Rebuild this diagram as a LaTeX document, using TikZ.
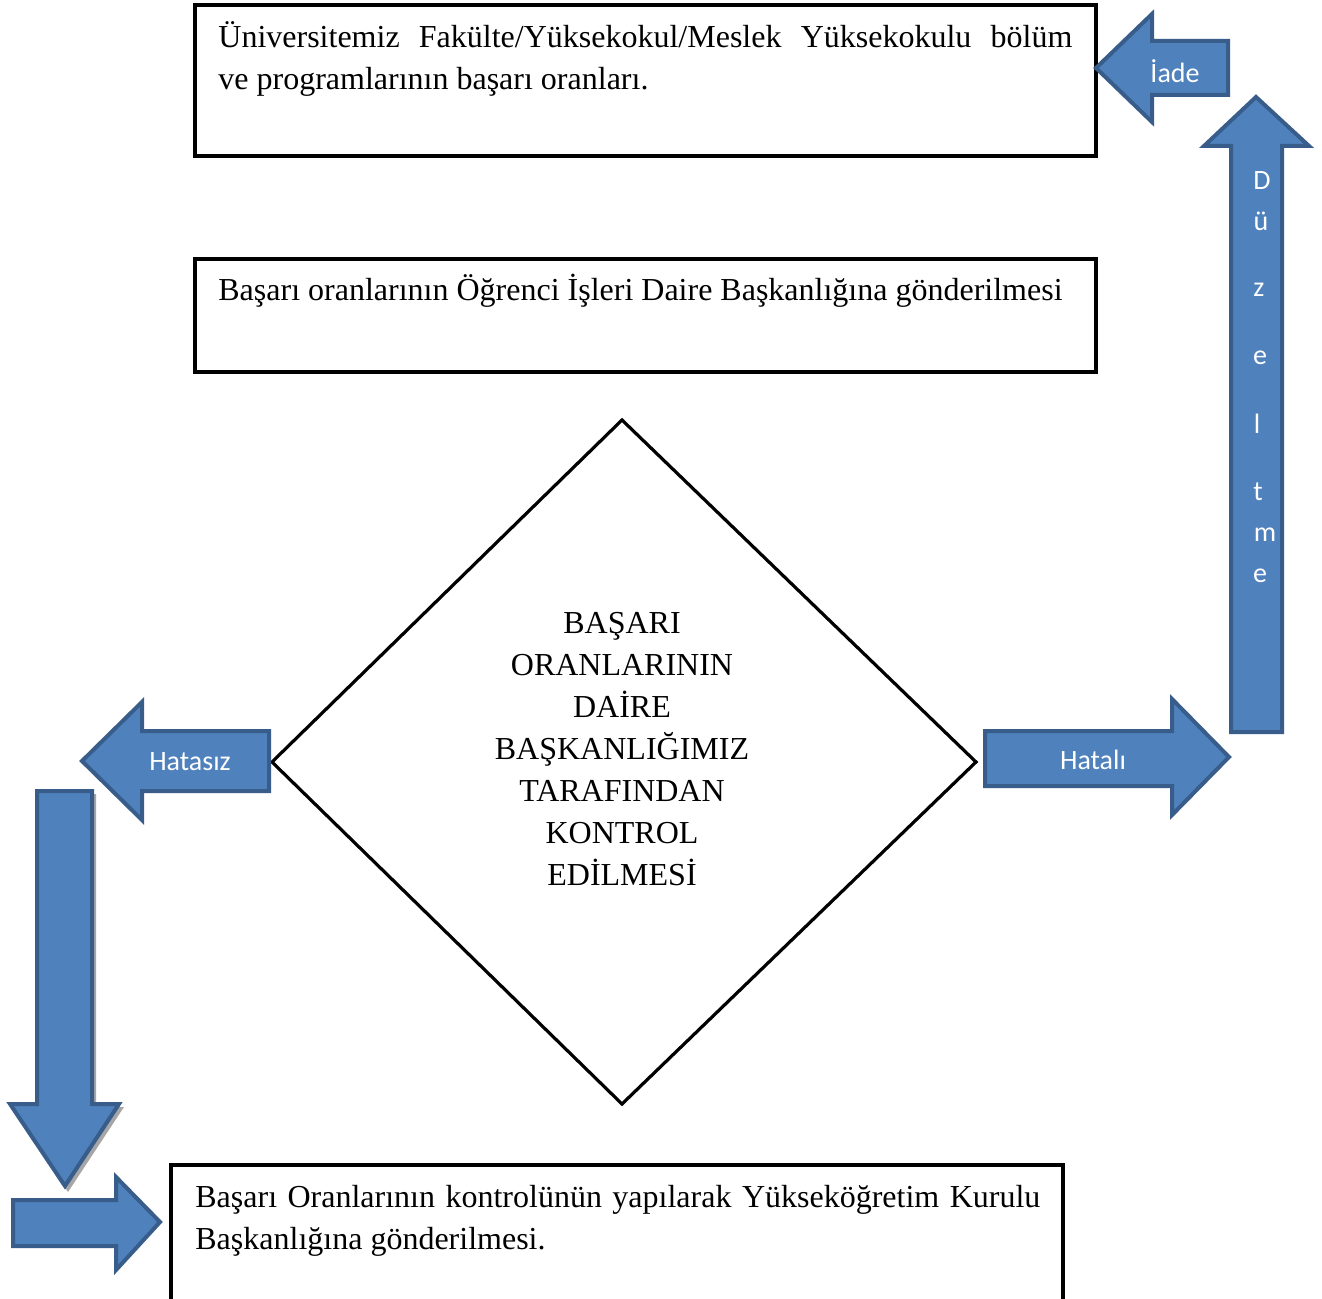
\documentclass[tikz,border=0pt]{standalone}
\usepackage{fontspec}
\setmainfont{Liberation Serif}
\newfontfamily\arrowfont{Carlito}
\definecolor{arrfill}{HTML}{4F81BD}
\definecolor{arrline}{HTML}{385D8A}
\tikzset{
  blockarrow/.style={fill=arrfill, draw=arrline, line width=2pt, line join=miter},
  arrshadow/.style={fill=black!35, draw=none},
  box/.style={draw=black, line width=2pt},
  diam/.style={draw=black, line width=1.6pt, line join=miter},
  arrtext/.style={text=white, font=\arrowfont\fontsize{14}{16}\selectfont, inner sep=0pt},
  serif/.style={font=\fontsize{16}{21}\selectfont, inner sep=0pt},
}
\begin{document}
\begin{tikzpicture}[x=0.5pt, y=-0.5pt]
\clip (0,0) rectangle (1322,1299);
\fill[white] (0,0) rectangle (1322,1299);

% boxes
\draw[box] (195,5) rectangle (1096,156);
\node[serif, anchor=north west, text width=427pt, align=justify] (t1) at (218,21)
  {Üniversitemiz Fakülte/Yüksekokul/Meslek Yüksekokulu bölüm\linebreak ve programlarının başarı oranları.};

\draw[box] (195,259) rectangle (1096,372);
\node[serif, anchor=base west] (t2) at (218,301)
  {Başarı oranlarının Öğrenci İşleri Daire Başkanlığına gönderilmesi};

\draw[box] (171,1165) rectangle (1063,1320);
\node[serif, anchor=north west, text width=422.5pt, align=justify] (t3) at (195,1185)
  {Başarı Oranlarının kontrolünün yapılarak Yükseköğretim Kurulu\linebreak Başkanlığına gönderilmesi.};

% diamond
\draw[diam] (622,420) -- (976,762) -- (622,1104) -- (272,762) -- cycle;
\node[serif, align=center] (dt) at (622,749)
  {BAŞARI\\ORANLARININ\\DAİRE\\BAŞKANLIĞIMIZ\\TARAFINDAN\\KONTROL\\EDİLMESİ};

% block arrows
\draw[blockarrow] (1096,68) -- (1152,14) -- (1152,41) -- (1228,41) -- (1228,95) -- (1152,95) -- (1152,122) -- cycle;
\node[arrtext] (iade) at (1175,71) {İade};

\draw[blockarrow] (1256,97) -- (1309,146) -- (1282,146) -- (1282,732) -- (1231,732) -- (1231,146) -- (1204,146) -- cycle;
\foreach \ch/\xx/\yy [count=\i] in {D/1262/181, ü/1261/221, z/1259/290, e/1260/358, l/1257/424, t/1258/492, m/1265/535, e/1260/576}
  \node[arrtext] (dz\i) at (\xx,\yy) {\ch};

\draw[blockarrow] (1229,757) -- (1172,699) -- (1172,731) -- (985,731) -- (985,786) -- (1172,786) -- (1172,815) -- cycle;
\node[arrtext] (hatali) at (1093,760) {Hatalı};

\draw[blockarrow] (82,761) -- (142,702) -- (142,731) -- (269,731) -- (269,791) -- (142,791) -- (142,820) -- cycle;
\node[arrtext] (hatasiz) at (190,762) {Hatasız};

\fill[arrshadow] (68,1192) -- (12,1107) -- (40,1107) -- (40,794) -- (96,794) -- (96,1107) -- (124,1107) -- cycle;
\draw[blockarrow] (65,1186) -- (10,1104) -- (37,1104) -- (37,791) -- (92,791) -- (92,1104) -- (119,1104) -- cycle;

\draw[blockarrow] (160,1222) -- (116,1177) -- (116,1200) -- (13,1200) -- (13,1246) -- (116,1246) -- (116,1270) -- cycle;
\end{tikzpicture}
\end{document}
